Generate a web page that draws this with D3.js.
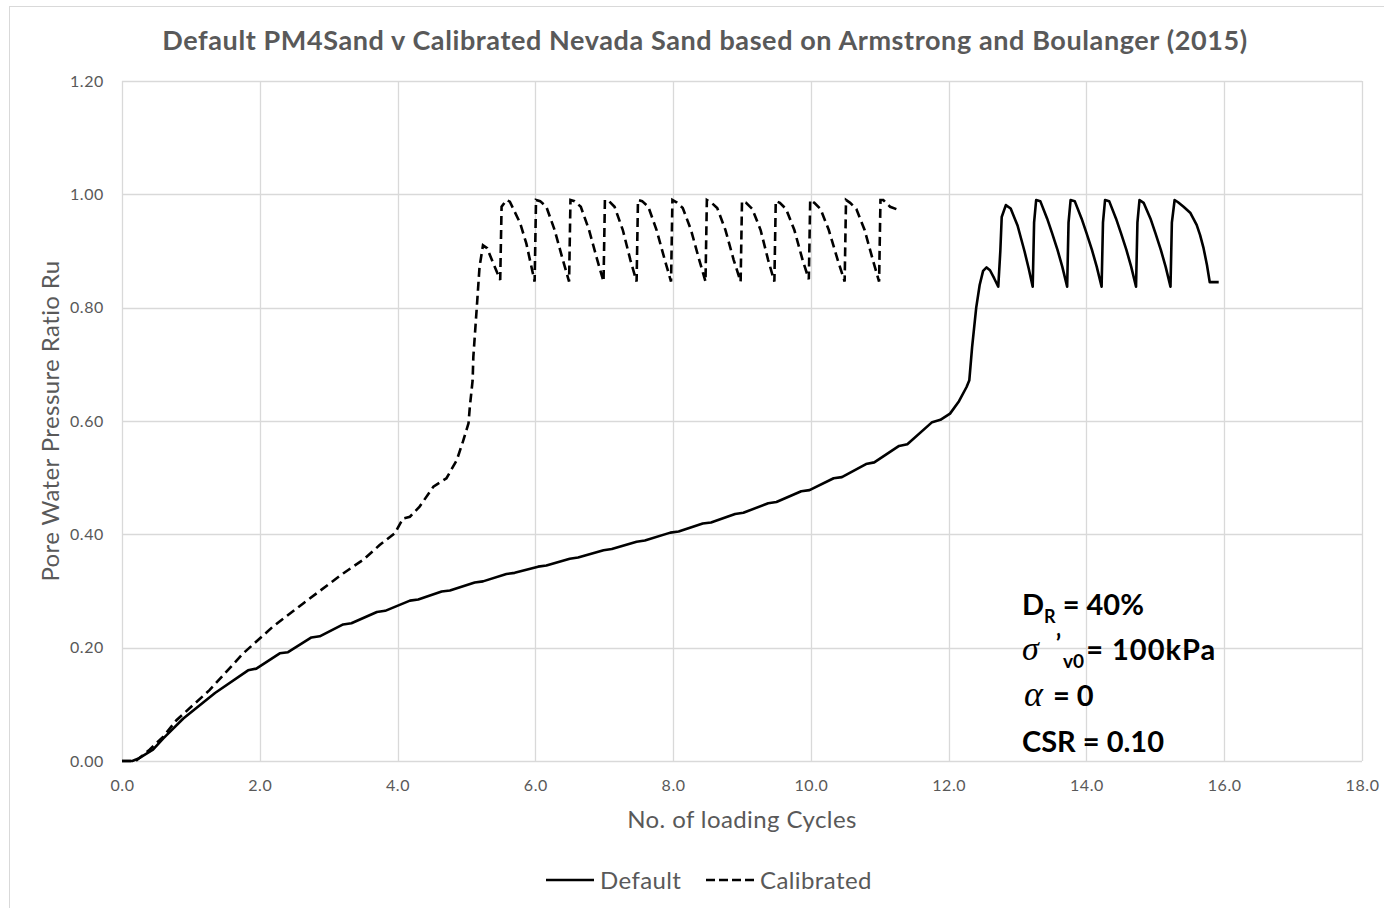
<!DOCTYPE html>
<html>
<head>
<meta charset="utf-8">
<script src="https://cdn.jsdelivr.net/npm/d3@7"></script>
<style>
  body { margin: 0; background: #fff; }
  svg { display: block; }
</style>
</head>
<body>
<svg id="chart" width="1384" height="908"></svg>
<script>
// tick labels
const xTicks = [0, 2, 4, 6, 8, 10, 12, 14, 16, 18]
const yTicks = [0, 0.2, 0.4, 0.6, 0.8, 1.0, 1.2]

// Default PM4Sand: [cycles, Ru]
const defaultSeries = [
  [0.00, 0.000], [0.15, 0.000], [0.25, 0.005], [0.45, 0.020], [0.60, 0.040],
  [0.89, 0.075], [1.35, 0.120], [1.83, 0.160], [1.95, 0.163], [2.29, 0.190],
  [2.41, 0.192], [2.75, 0.218], [2.87, 0.220], [3.21, 0.241], [3.33, 0.243],
  [3.70, 0.263], [3.82, 0.265], [4.18, 0.283], [4.30, 0.285], [4.64, 0.299],
  [4.76, 0.301], [5.12, 0.315], [5.24, 0.317], [5.58, 0.330], [5.70, 0.332],
  [6.04, 0.343], [6.16, 0.345], [6.50, 0.357], [6.62, 0.359], [6.99, 0.372],
  [7.11, 0.374], [7.47, 0.387], [7.59, 0.389], [7.96, 0.403], [8.08, 0.405],
  [8.43, 0.419], [8.55, 0.421], [8.90, 0.436], [9.02, 0.438], [9.38, 0.455],
  [9.50, 0.457], [9.86, 0.476], [9.98, 0.478], [10.33, 0.499], [10.45, 0.501],
  [10.80, 0.524], [10.92, 0.527], [11.28, 0.556], [11.40, 0.559], [11.76, 0.598],
  [11.88, 0.602], [12.02, 0.613], [12.15, 0.635], [12.26, 0.660], [12.30, 0.672],
  [12.34, 0.730], [12.40, 0.800], [12.45, 0.840], [12.50, 0.865], [12.55, 0.871],
  [12.60, 0.866], [12.66, 0.852], [12.72, 0.837], [12.75, 0.900], [12.77, 0.960],
  [12.83, 0.981], [12.90, 0.975], [13.00, 0.945], [13.10, 0.900], [13.16, 0.870], [13.22, 0.837],
  [13.24, 0.950], [13.27, 0.990], [13.33, 0.988], [13.43, 0.957], [13.50, 0.932], [13.58, 0.902], [13.65, 0.872], [13.72, 0.837],
  [13.74, 0.950], [13.77, 0.990], [13.83, 0.988], [13.93, 0.957], [14.00, 0.932], [14.08, 0.902], [14.15, 0.872], [14.22, 0.837],
  [14.24, 0.950], [14.27, 0.990], [14.33, 0.988], [14.43, 0.957], [14.50, 0.932], [14.58, 0.902], [14.65, 0.872], [14.72, 0.837],
  [14.74, 0.950], [14.77, 0.990], [14.83, 0.985], [14.93, 0.957], [15.00, 0.932], [15.08, 0.902], [15.15, 0.872], [15.22, 0.837],
  [15.24, 0.950], [15.28, 0.990], [15.33, 0.986], [15.41, 0.978], [15.51, 0.967], [15.60, 0.946],
  [15.65, 0.928], [15.70, 0.905], [15.75, 0.875], [15.79, 0.845], [15.92, 0.845]
]

// Calibrated Nevada Sand: [cycles, Ru]
const calibratedSeries = [
  [0.00, 0.000], [0.20, 0.000], [0.40, 0.020], [0.60, 0.043], [0.79, 0.072],
  [1.27, 0.125], [1.76, 0.190], [2.19, 0.237], [2.63, 0.278], [3.21, 0.331],
  [3.50, 0.355], [3.74, 0.381], [3.96, 0.402], [4.08, 0.428], [4.18, 0.431],
  [4.32, 0.449], [4.52, 0.484], [4.71, 0.499], [4.86, 0.531], [4.95, 0.564],
  [5.03, 0.596], [5.05, 0.626], [5.09, 0.672], [5.10, 0.713], [5.15, 0.800],
  [5.19, 0.872], [5.24, 0.910], [5.30, 0.905], [5.37, 0.884], [5.49, 0.849],
  [5.51, 0.978], [5.58, 0.990], [5.63, 0.987], [5.78, 0.949], [5.87, 0.913], [5.99, 0.846],
  [6.01, 0.990], [6.07, 0.988], [6.16, 0.978], [6.28, 0.937], [6.40, 0.884], [6.49, 0.846],
  [6.51, 0.990], [6.57, 0.988], [6.66, 0.978], [6.78, 0.937], [6.90, 0.884], [6.99, 0.846],
  [7.01, 0.990], [7.07, 0.988], [7.15, 0.978], [7.27, 0.937], [7.38, 0.884], [7.47, 0.846],
  [7.49, 0.990], [7.55, 0.988], [7.64, 0.978], [7.76, 0.937], [7.88, 0.884], [7.97, 0.846],
  [7.99, 0.990], [8.05, 0.986], [8.14, 0.976], [8.26, 0.937], [8.38, 0.884], [8.47, 0.846],
  [8.49, 0.990], [8.55, 0.986], [8.64, 0.976], [8.76, 0.937], [8.88, 0.884], [8.98, 0.846],
  [9.00, 0.988], [9.06, 0.985], [9.15, 0.974], [9.27, 0.937], [9.38, 0.884], [9.47, 0.846],
  [9.49, 0.988], [9.55, 0.985], [9.64, 0.974], [9.76, 0.937], [9.88, 0.884], [9.97, 0.850],
  [9.99, 0.990], [10.05, 0.985], [10.14, 0.974], [10.26, 0.937], [10.39, 0.884], [10.49, 0.846],
  [10.51, 0.990], [10.57, 0.985], [10.66, 0.974], [10.78, 0.937], [10.90, 0.884], [10.99, 0.846],
  [11.01, 0.990], [11.05, 0.990], [11.15, 0.978], [11.26, 0.973]
]

const svg = d3.select('#chart')
const font = 'Lato, Carlito, "Open Sans", sans-serif'
const serif = '"Liberation Serif", "DejaVu Serif", serif'
const grey = '#595959'

const x = d3.scaleLinear().domain([0, 18]).range([122, 1362])
const y = d3.scaleLinear().domain([0, 1.2]).range([761, 81])

// outer frame
svg.append('rect')
  .attr('x', 9.5).attr('y', 6.5).attr('width', 1400).attr('height', 1000)
  .attr('fill', 'none').attr('stroke', '#d9d9d9').attr('stroke-width', 1)

/* --------- GRID ---------*/
const grid = svg.append('g').attr('class', 'grid')
grid.selectAll('line.v').data(xTicks).enter().append('line')
  .attr('class', 'v')
  .attr('x1', d => Math.round(x(d)) + 0.5).attr('x2', d => Math.round(x(d)) + 0.5)
  .attr('y1', y(1.2)).attr('y2', y(0))
  .attr('stroke', '#d9d9d9').attr('stroke-width', 1.3)
grid.selectAll('line.h').data(yTicks).enter().append('line')
  .attr('class', 'h')
  .attr('x1', x(0)).attr('x2', x(18))
  .attr('y1', d => Math.round(y(d)) + 0.5).attr('y2', d => Math.round(y(d)) + 0.5)
  .attr('stroke', '#d9d9d9').attr('stroke-width', 1.3)

/* --------- AXES ---------*/
const xAxis = svg.append('g')
  .attr('transform', `translate(0,${y(0)})`)
  .call(d3.axisBottom(x).tickValues(xTicks).tickSize(0).tickPadding(19).tickFormat(d3.format('.1f')))
const yAxis = svg.append('g')
  .attr('transform', `translate(${x(0)},0)`)
  .call(d3.axisLeft(y).tickValues(yTicks).tickSize(0).tickPadding(18).tickFormat(d3.format('.2f')))
for (const ax of [xAxis, yAxis]) {
  ax.select('.domain').remove()
  ax.selectAll('text')
    .attr('font-family', font).attr('font-size', 16).attr('letter-spacing', 0.6).attr('fill', grey)
}

svg.append('text')
  .attr('x', 742).attr('y', 828)
  .attr('text-anchor', 'middle')
  .attr('font-family', font).attr('font-size', 24).attr('letter-spacing', 0.4).attr('fill', grey)
  .text('No. of loading Cycles')

svg.append('text')
  .attr('transform', 'translate(59,421) rotate(-90)')
  .attr('text-anchor', 'middle')
  .attr('font-family', font).attr('font-size', 24).attr('letter-spacing', 0.4).attr('fill', grey)
  .text('Pore Water Pressure Ratio Ru')

svg.append('text')
  .attr('x', 705).attr('y', 50)
  .attr('text-anchor', 'middle')
  .attr('font-family', font).attr('font-size', 27).attr('letter-spacing', 0.6)
  .attr('font-weight', 'bold').attr('fill', grey)
  .text('Default PM4Sand v Calibrated Nevada Sand based on Armstrong and Boulanger (2015)')

/* --------- LINES ---------*/
const line = d3.line().x(d => x(d[0])).y(d => y(d[1]))

svg.append('path')
  .datum(defaultSeries)
  .attr('d', line)
  .attr('fill', 'none').attr('stroke', '#000').attr('stroke-width', 2.6)
  .attr('stroke-linejoin', 'round')

svg.append('path')
  .datum(calibratedSeries)
  .attr('d', line)
  .attr('fill', 'none').attr('stroke', '#000').attr('stroke-width', 2.6)
  .attr('stroke-dasharray', '9,5')

/* --------- ANNOTATION ---------*/
const ann = svg.append('g')
  .attr('font-family', font).attr('font-size', 29).attr('font-weight', 'bold').attr('fill', '#000')

const t1 = ann.append('text').attr('x', 1022).attr('y', 615)
t1.append('tspan').text('D')
t1.append('tspan').attr('font-size', 18).attr('dy', 8).text('R')
t1.append('tspan').attr('dy', -8).text(' = 40%')

const t2 = ann.append('text').attr('x', 1022).attr('y', 660)
t2.append('tspan').attr('font-family', serif)
  .attr('font-style', 'italic').attr('font-weight', 'normal').attr('font-size', 34).text('σ')
t2.append('tspan').attr('font-size', 24).attr('dx', 17).attr('dy', -8).text('’')
t2.append('tspan').attr('font-size', 19).attr('dx', 2).attr('dy', 16).text('v0')
t2.append('tspan').attr('dy', -8).attr('dx', 2).attr('letter-spacing', 1).text('= 100kPa')

const t3 = ann.append('text').attr('x', 1024).attr('y', 706)
t3.append('tspan').attr('font-family', serif)
  .attr('font-style', 'italic').attr('font-weight', 'normal').attr('font-size', 36).text('α')
t3.append('tspan').attr('dx', 10).text('= 0')

ann.append('text').attr('x', 1022).attr('y', 752).text('CSR = 0.10')

/* --------- LEGEND ---------*/
const legend = svg.append('g')
  .attr('font-family', font).attr('font-size', 24).attr('letter-spacing', 0.4).attr('fill', grey)
legend.append('line')
  .attr('x1', 546).attr('x2', 594).attr('y1', 880).attr('y2', 880)
  .attr('stroke', '#000').attr('stroke-width', 2.6)
legend.append('text').attr('x', 600).attr('y', 889).text('Default')
legend.append('line')
  .attr('x1', 706).attr('x2', 754).attr('y1', 880).attr('y2', 880)
  .attr('stroke', '#000').attr('stroke-width', 2.6).attr('stroke-dasharray', '9,4')
legend.append('text').attr('x', 760).attr('y', 889).text('Calibrated')
</script>
</body>
</html>
